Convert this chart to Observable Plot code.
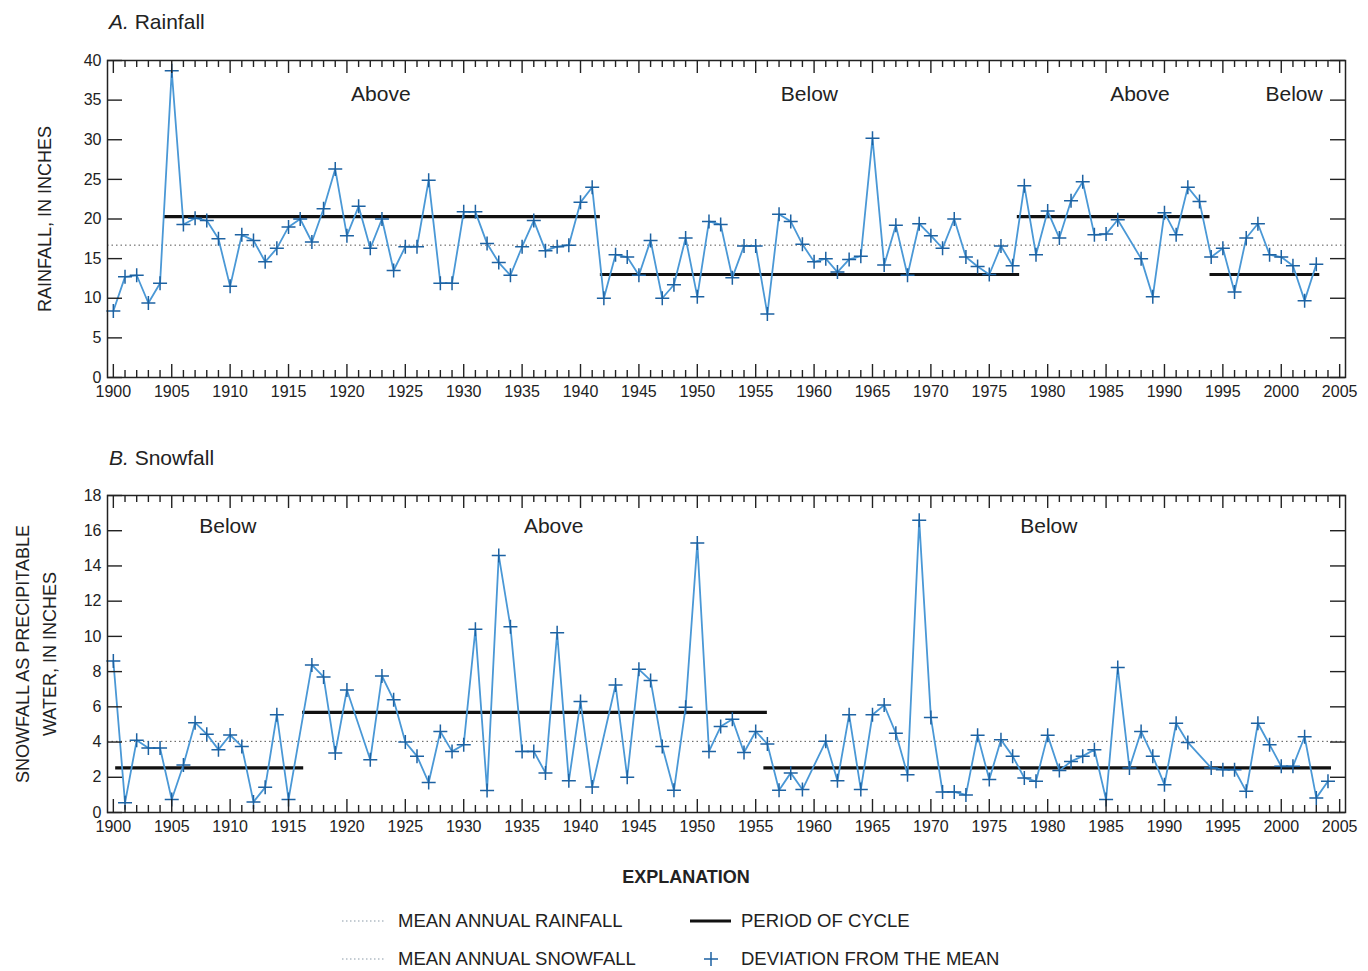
<!DOCTYPE html>
<html><head><meta charset="utf-8">
<script src="https://cdn.jsdelivr.net/npm/d3@7"></script>
<script src="https://cdn.jsdelivr.net/npm/@observablehq/plot@0.6"></script>
<style>
body{margin:0;background:#fff;font-family:"Liberation Sans",Arial,sans-serif;color:#222;}
#root{position:relative;width:1368px;height:971px;overflow:hidden;}
.abs{position:absolute;white-space:nowrap;}
.title{font-size:21px;line-height:24px;}
.leg{font-size:18.5px;line-height:22px;}
</style></head><body><div id="root"></div>
<script>
// ---------- DATA ----------
const rainYears = d3.range(1900, 2004);
const rainValues = [
  8.4, 12.7, 12.9, 9.4, 11.9, 38.7, 19.3, 20.1, 19.8, 17.5,
  11.5, 18.0, 17.3, 14.6, 16.3, 19.0, 20.0, 17.1, 21.3, 26.3,
  17.9, 21.6, 16.3, 20.0, 13.5, 16.5, 16.5, 24.9, 11.9, 11.9,
  20.9, 20.9, 16.9, 14.5, 12.9, 16.5, 19.8, 16.0, 16.5, 16.7,
  22.1, 24.0, 10.0, 15.5, 15.2, 12.9, 17.3, 10.0, 11.7, 17.6,
  10.2, 19.7, 19.3, 12.6, 16.6, 16.6, 8.0, 20.6, 19.7, 16.8,
  14.6, 15.0, 13.3, 14.9, 15.3, 30.2, 14.2, 19.2, 12.9, 19.4,
  17.9, 16.3, 20.0, 15.2, 14.0, 13.0, 16.6, 14.1, 24.2, 15.5,
  21.0, 17.6, 22.3, 24.7, 18.0, 18.1, 19.9, null, 15.0, 10.2,
  20.8, 18.0, 24.0, 22.2, 15.2, 16.3, 10.8, 17.6, 19.4, 15.5,
  15.2, 14.1, 9.7, 14.3
];
const snowYears = d3.range(1900, 2005);
const snowValues = [
  8.6, 0.55, 4.1, 3.66, 3.66, 0.74, 2.7, 5.1, 4.45, 3.57,
  4.4, 3.75, 0.6, 1.43, 5.55, 0.74, null, 8.38, 7.7, 3.38,
  6.96, null, 3.0, 7.75, 6.4, 4.0, 3.2, 1.7, 4.6, 3.47,
  3.85, 10.4, 1.25, 14.6, 10.55, 3.47, 3.47, 2.25, 10.2, 1.8,
  6.3, 1.45, null, 7.24, 2.0, 8.13, 7.5, 3.75, 1.26, 5.98,
  15.3, 3.47, 4.88, 5.3, 3.41, 4.6, 3.89, 1.26, 2.25, 1.3,
  null, 4.04, 1.8, 5.55, 1.3, 5.55, 6.1, 4.5, 2.15, 16.6,
  5.4, 1.17, 1.17, 1.0, 4.38, 1.87, 4.13, 3.2, 1.96, 1.77,
  4.38, 2.38, 2.9, 3.2, 3.57, 0.74, 8.23, 2.53, 4.6, 3.19,
  1.58, 5.07, 3.98, null, 2.53, 2.43, 2.43, 1.2, 5.07, 3.85,
  2.62, 2.62, 4.3, 0.83, 1.77
];
const rainMean = 16.7;
const snowMean = 4.04;

const rainCycleStart = [1904.3, 1941.7, 1977.4, 1993.9];
const rainCycleEnd   = [1941.7, 1977.6, 1993.9, 2003.3];
const rainCycleLevel = [20.3, 13.0, 20.3, 13.0];
const rainCycleText  = ["Above", "Below", "Above", "Below"];
const rainCycleTextYear = [1922.9, 1959.6, 1987.9, 2001.1];
const rainCycleTextY = 35.7;

const snowCycleStart = [1900.2, 1916.2, 1955.7];
const snowCycleEnd   = [1916.3, 1956.0, 2004.3];
const snowCycleLevel = [2.53, 5.68, 2.53];
const snowCycleText  = ["Below", "Above", "Below"];
const snowCycleTextYear = [1909.8, 1937.7, 1980.1];
const snowCycleTextY = 16.25;

const majorYears = d3.range(1900, 2006, 5);
const minorYears = d3.range(1900, 2006).filter(y => y % 5 !== 0);
const rainTicks = d3.range(0, 41, 5);
const snowTicks = d3.range(0, 19, 2);

// ---------- STYLE ----------
const FONT = '"Liberation Sans", Arial, sans-serif';
const LINE = "#4a98d6";
const MARK = "#1d62a2";
const plusSymbol = {
  draw(ctx, size) {
    const r = Math.sqrt(size / Math.PI);
    ctx.moveTo(-r, 0); ctx.lineTo(r, 0);
    ctx.moveTo(0, -r); ctx.lineTo(0, r);
  }
};

function panel({years, values, yMax, yTicks, mean, cs, ce, cl, txt, txtYear, txtY, yLabel, labelDx, lineHeight}) {
  const W = 1368, H = 410, mL = 107, mR = 23, mT = 60, mB = 33;
  const pw = W - mL - mR, ph = H - mT - mB;
  const data = years.map((year, i) => ({year, v: values[i]})).filter(d => d.v != null);
  const cycles = cs.map((s, i) => ({start: s, end: ce[i], level: cl[i]}));
  const labels = txt.map((t, i) => ({t, year: txtYear[i], y: txtY}));
  const tk = {stroke: "#222", strokeWidth: 1.4};
  return Plot.plot({
    width: W, height: H, marginLeft: mL, marginRight: mR, marginTop: mT, marginBottom: mB,
    x: {domain: [1899.5, 2005.5], axis: null},
    y: {domain: [0, yMax], axis: null},
    style: {fontFamily: FONT, background: "white", color: "#222"},
    marks: [
      Plot.ruleY([mean], {stroke: "#555", strokeWidth: 1, strokeDasharray: "1.5,3"}),
      Plot.ruleY(cycles, {x1: "start", x2: "end", y: "level", stroke: "#111", strokeWidth: 3.2}),
      Plot.line(data, {x: "year", y: "v", stroke: LINE, strokeWidth: 1.8}),
      Plot.dot(data, {x: "year", y: "v", symbol: plusSymbol, r: 7, stroke: MARK, strokeWidth: 1.5, fill: "none"}),
      Plot.text(labels, {x: "year", y: "y", text: "t", fontSize: 21, fill: "#222"}),
      Plot.tickY(yTicks, {y: d => d, insetRight: pw - 15, ...tk}),
      Plot.tickY(yTicks, {y: d => d, insetLeft: pw - 15, ...tk}),
      Plot.tickX(majorYears, {x: d => d, insetBottom: ph - 13, ...tk}),
      Plot.tickX(majorYears, {x: d => d, insetTop: ph - 13, ...tk}),
      Plot.tickX(minorYears, {x: d => d, insetBottom: ph - 7, ...tk}),
      Plot.tickX(minorYears, {x: d => d, insetTop: ph - 7, ...tk}),
      Plot.axisX(majorYears, {tickSize: 0, tickPadding: 8, tickFormat: d => String(d), fontSize: 16, label: null}),
      Plot.axisY(yTicks, {tickSize: 0, tickPadding: 6, fontSize: 16, label: null}),
      Plot.text([yLabel], {frameAnchor: "left", rotate: -90, dx: labelDx, textAnchor: "middle", lineAnchor: "middle", fontSize: 18, lineHeight, fill: "#222"}),
      Plot.frame({stroke: "#222", strokeWidth: 1.5})
    ]
  });
}

const root = document.getElementById("root");
function place(el, top) { el.style.position = "absolute"; el.style.left = "0px"; el.style.top = top + "px"; root.appendChild(el); }

place(panel({years: rainYears, values: rainValues, yMax: 40, yTicks: rainTicks, mean: rainMean,
  cs: rainCycleStart, ce: rainCycleEnd, cl: rainCycleLevel, txt: rainCycleText, txtYear: rainCycleTextYear, txtY: rainCycleTextY,
  yLabel: "RAINFALL, IN INCHES", labelDx: -62, lineHeight: 1}), 0);
place(panel({years: snowYears, values: snowValues, yMax: 18, yTicks: snowTicks, mean: snowMean,
  cs: snowCycleStart, ce: snowCycleEnd, cl: snowCycleLevel, txt: snowCycleText, txtYear: snowCycleTextYear, txtY: snowCycleTextY,
  yLabel: "SNOWFALL AS PRECIPITABLE\nWATER, IN INCHES", labelDx: -74, lineHeight: 1.5}), 435);

function addDiv(html, cls, left, top) {
  const d = document.createElement("div");
  d.className = "abs " + cls; d.innerHTML = html;
  d.style.left = left + "px"; d.style.top = top + "px";
  root.appendChild(d); return d;
}
addDiv("<i>A.</i> Rainfall", "title", 109, 10);
addDiv("<i>B.</i> Snowfall", "title", 109, 446);
const ex = addDiv("<b>EXPLANATION</b>", "leg", 586, 866);
ex.style.width = "200px"; ex.style.textAlign = "center"; ex.style.fontSize = "18px";

function swatch(svgInner, left, top) {
  const d = document.createElement("div");
  d.className = "abs"; d.style.left = left + "px"; d.style.top = top + "px";
  d.innerHTML = `<svg width="50" height="20">${svgInner}</svg>`;
  root.appendChild(d);
}
const dotted = `<line x1="2" x2="46" y1="10" y2="10" stroke="#8a9aa8" stroke-width="1.2" stroke-dasharray="1.5,2.5"/>`;
swatch(dotted, 340, 911);
swatch(dotted, 340, 949);
swatch(`<line x1="0" x2="41" y1="10" y2="10" stroke="#111" stroke-width="3"/>`, 690, 911);
swatch(`<path d="M14,10H28M21,3V17" stroke="${MARK}" stroke-width="1.5" fill="none"/>`, 690, 949);
addDiv("MEAN ANNUAL RAINFALL", "leg", 398, 910);
addDiv("MEAN ANNUAL SNOWFALL", "leg", 398, 948);
addDiv("PERIOD OF CYCLE", "leg", 741, 910);
addDiv("DEVIATION FROM THE MEAN", "leg", 741, 948);
</script></body></html>
